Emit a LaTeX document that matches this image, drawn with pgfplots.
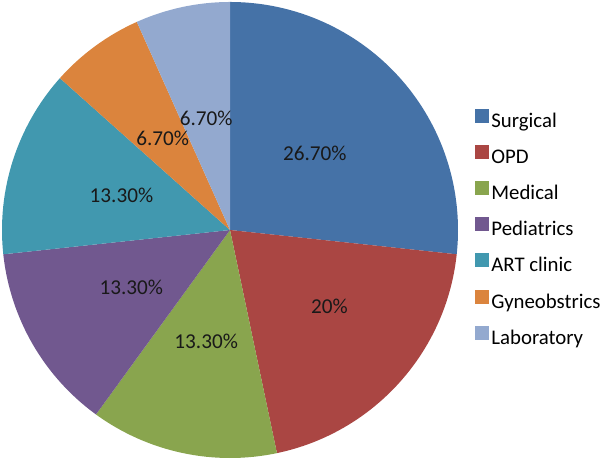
\documentclass[border=0pt]{standalone}
\usepackage{pgfplots}
\pgfplotsset{compat=1.18}
\usepackage{pgfplotstable}
\usetikzlibrary{calc}
\usepackage{fontspec}
\setmainfont{Carlito}

\definecolor{cSurg}{HTML}{4572A7}
\definecolor{cOPD}{HTML}{AA4643}
\definecolor{cMed}{HTML}{89A54E}
\definecolor{cPed}{HTML}{71588F}
\definecolor{cART}{HTML}{4198AF}
\definecolor{cGyn}{HTML}{DB843D}
\definecolor{cLab}{HTML}{93A9CF}

% share of each department, clockwise from 12 o'clock
\pgfplotstableread[col sep=comma]{
name,pct,label,col,dx
Surgical,26.7,26.70,cSurg,0
OPD,20,20,cOPD,7.5
Medical,13.3,13.30,cMed,0
Pediatrics,13.3,13.30,cPed,0
ART clinic,13.3,13.30,cART,0
Gyneobstrics,6.7,6.70,cGyn,0
Laboratory,6.7,6.70,cLab,0
}\piedata

% slice angles from the table
\xdef\curangle{90}
\foreach \i in {0,...,6}{%
  \pgfplotstablegetelem{\i}{pct}\of\piedata
  \pgfmathsetmacro\sweep{3.6*\pgfplotsretval}%
  \pgfmathsetmacro\endang{\curangle-\sweep}%
  \pgfmathsetmacro\midang{\curangle-\sweep/2}%
  \expandafter\xdef\csname pieS\i\endcsname{\curangle}%
  \expandafter\xdef\csname pieE\i\endcsname{\endang}%
  \expandafter\xdef\csname pieM\i\endcsname{\midang}%
  \xdef\curangle{\endang}%
  \pgfplotstablegetelem{\i}{label}\of\piedata
  \expandafter\xdef\csname pieL\i\endcsname{\pgfplotsretval}%
  \pgfplotstablegetelem{\i}{name}\of\piedata
  \expandafter\xdef\csname pieN\i\endcsname{\pgfplotsretval}%
  \pgfplotstablegetelem{\i}{col}\of\piedata
  \expandafter\xdef\csname pieC\i\endcsname{\pgfplotsretval}%
  \pgfplotstablegetelem{\i}{dx}\of\piedata
  \expandafter\xdef\csname pieD\i\endcsname{\pgfplotsretval bp}%
}

\begin{document}
\begin{tikzpicture}
\begin{axis}[
  scale only axis, width=300bp, height=230bp,
  xmin=0, xmax=600, ymin=0, ymax=460, y dir=reverse,
  hide axis, clip=false,
  legend image code/.code={\fill[#1] (0bp,0bp) rectangle (7bp,7bp);},
  legend style={at={(0.7917,0.7637)}, anchor=north west, draw=none, fill=none,
    inner sep=0pt, font=\fontsize{10.4bp}{12bp}\selectfont,
    row sep=6.3bp, column sep=1bp,
    nodes={inner sep=0pt, text height=7bp, text depth=2.5bp}},
  legend cell align=left,
]
\pgfplotsinvokeforeach{0,...,6}{
  \fill[fill=\csname pieC#1\endcsname] (axis cs:230,230) -- ++(\csname pieS#1\endcsname:114bp)
    arc[start angle=\csname pieS#1\endcsname, end angle=\csname pieE#1\endcsname, radius=114bp] -- cycle;
  \addlegendimage{fill=\csname pieC#1\endcsname, draw=none}
  \addlegendentryexpanded{\csname pieN#1\endcsname}
}
\pgfplotsinvokeforeach{0,...,6}{
  \node[font=\fontsize{10.6bp}{12bp}\selectfont, inner sep=0pt, text=black!90]
    at ($(axis cs:230,230)+(\csname pieM#1\endcsname:57bp)+(\csname pieD#1\endcsname,0bp)$)
    {\csname pieL#1\endcsname\%};
}
\end{axis}
\pgfresetboundingbox
\path (current axis.south west) rectangle (current axis.north east);
\end{tikzpicture}
\end{document}
